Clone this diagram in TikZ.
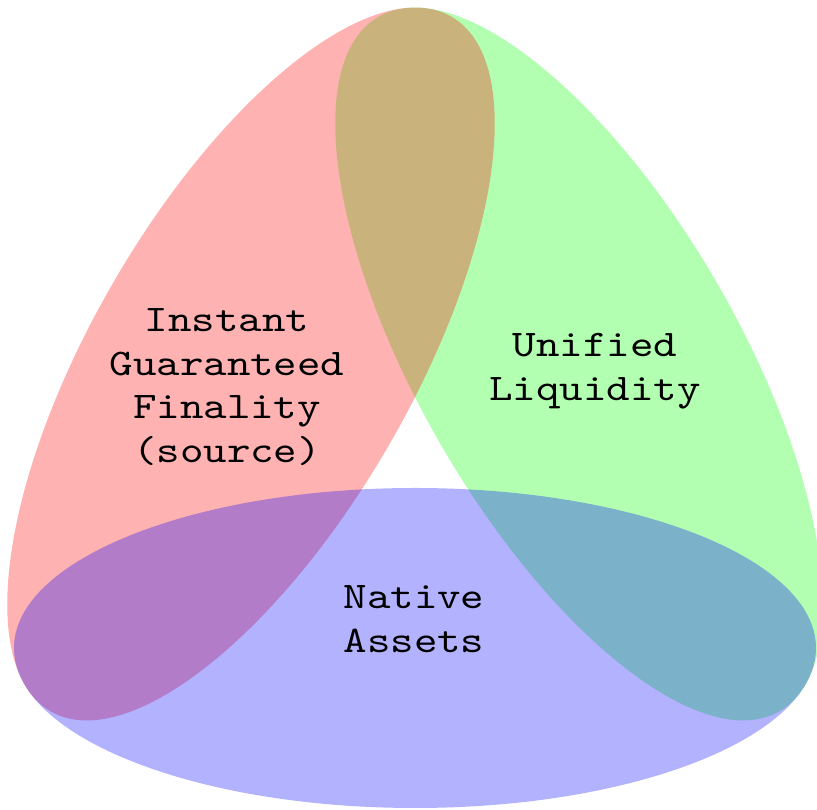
\documentclass[tikz,border=0pt]{standalone}
\usepackage{fontspec}
\newfontfamily\typewriter{lmmono10-regular.otf}[FakeStretch=1.19]
\usetikzlibrary{positioning}

\tikzset{
    petal/.style={fill=#1, fill opacity=0.3},
    label/.style={font=\typewriter\fontsize{37.6}{43.5}\selectfont, align=center, inner sep=0pt, text=black}
}

\begin{document}
\begin{tikzpicture}[x=1pt, y=1pt]

    \useasboundingbox (0,0) rectangle (817,810);

    %% Three properties

    % Petals
    \fill[petal=green, shift={(579,446)}, rotate=120] (0,0) ellipse (401pt and 160pt);
    \fill[petal=red, shift={(251,446)}, rotate=60] (0,0) ellipse (401pt and 160pt);
    \fill[petal=blue, shift={(415,162)}] (0,0) ellipse (401pt and 160pt);

    % Labels
    \node[label] (finality) at (227,423) {Instant\\Guaranteed\\Finality\\(source)};
    \node[label] (liquidity) at (595,439) {Unified\\Liquidity};
    \node[label] (assets) at (414,191) {Native\\Assets};

\end{tikzpicture}
\end{document}
